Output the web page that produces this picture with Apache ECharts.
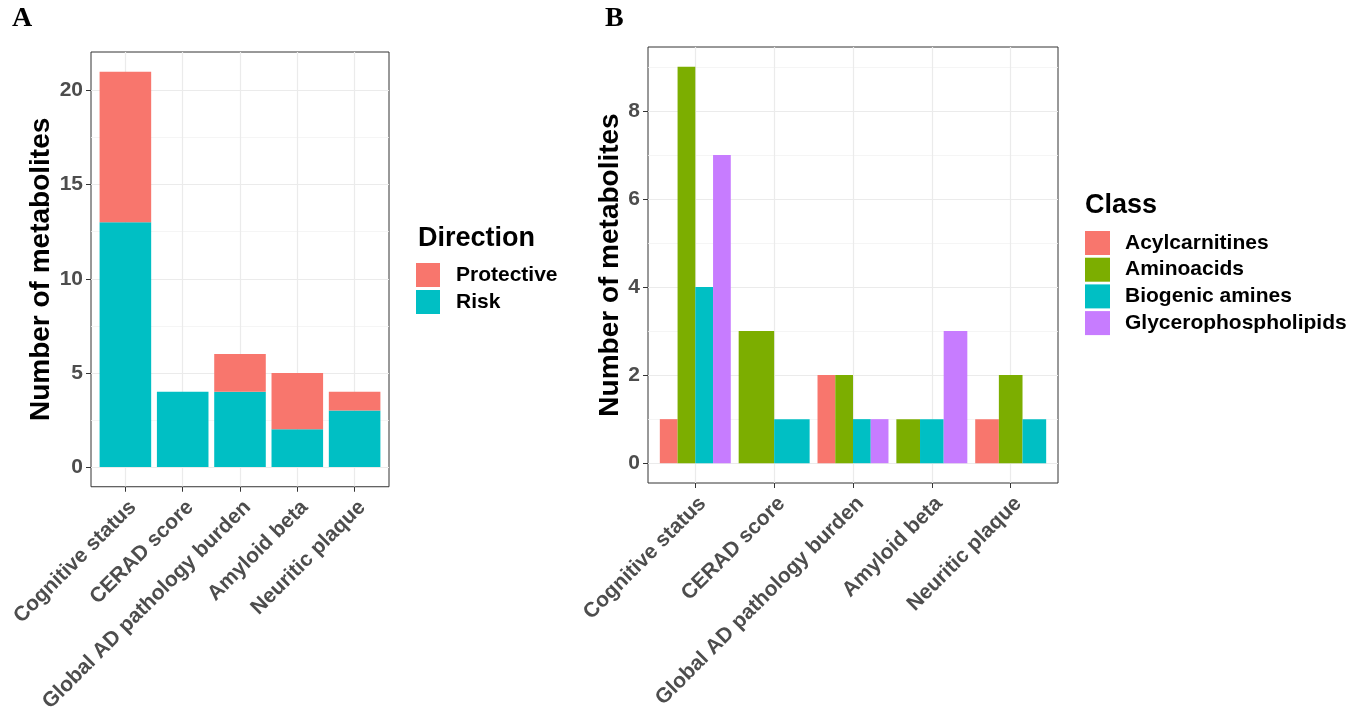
<!DOCTYPE html>
<html>
<head>
<meta charset="utf-8">
<script src="https://cdn.jsdelivr.net/npm/echarts@6/dist/echarts.min.js"></script>
<style>
html,body{margin:0;padding:0;background:#fff;}
#chart{width:1371px;height:715px;}
</style>
</head>
<body>
<div id="chart"></div>
<script>
// ---------- data ----------
const categories = ['Cognitive status', 'CERAD score', 'Global AD pathology burden', 'Amyloid beta', 'Neuritic plaque'];
// Panel A (stacked by direction)
const directionNames = ['Protective', 'Risk'];
const riskCounts = [13, 4, 4, 2, 3];
const protectiveCounts = [8, 0, 2, 3, 1];
// Panel B (dodged by class)
const classNames = ['Acylcarnitines', 'Aminoacids', 'Biogenic amines', 'Glycerophospholipids'];
const acylcarnitines = [1, 0, 2, 0, 1];
const aminoacids = [9, 3, 2, 1, 2];
const biogenicAmines = [4, 1, 1, 1, 1];
const glycerophospholipids = [7, 0, 1, 3, 0];
// tick labels
const yTicksA = [0, 5, 10, 15, 20];
const yMinorA = [2.5, 7.5, 12.5, 17.5];
const yTicksB = [0, 2, 4, 6, 8];
const yMinorB = [1, 3, 5, 7, 9];
const xTicks = [0, 1, 2, 3, 4];

// ---------- styling ----------
const FONT = '"Liberation Sans", Arial, Helvetica, sans-serif';
const SERIF = '"Liberation Serif", "Times New Roman", serif';
const dirColors = {Protective: '#F8766D', Risk: '#00BFC4'};
const classColors = ['#F8766D', '#7CAE00', '#00BFC4', '#C77CFF'];

// ---------- build series data ----------
const riskData = categories.map((c, i) => [i, 0, riskCounts[i]]).filter(d => d[2] > d[1]);
const protData = categories.map((c, i) => [i, riskCounts[i], riskCounts[i] + protectiveCounts[i]]).filter(d => d[2] > d[1]);

const classValues = [acylcarnitines, aminoacids, biogenicAmines, glycerophospholipids];
const classData = classValues.map(() => []);
categories.forEach((c, i) => {
  const present = [];
  classValues.forEach((vals, k) => { if (vals[i] > 0) present.push(k); });
  present.forEach((k, slot) => {
    classData[k].push([i, classValues[k][i], slot, present.length]);
  });
});

function stackItem(params, api) {
  const x = api.value(0), lo = api.value(1), hi = api.value(2);
  const unit = api.size([1, 0])[0];
  const w = 0.9 * unit;
  const a = api.coord([x, lo]), b = api.coord([x, hi]);
  return {type: 'rect', shape: {x: a[0] - w / 2, y: b[1], width: w, height: a[1] - b[1]}, style: api.style()};
}
function dodgeItem(params, api) {
  const x = api.value(0), v = api.value(1), slot = api.value(2), n = api.value(3);
  const unit = api.size([1, 0])[0];
  const total = 0.9 * unit, w = total / n;
  const a = api.coord([x, 0]), b = api.coord([x, v]);
  return {type: 'rect', shape: {x: a[0] - total / 2 + slot * w, y: b[1], width: w, height: a[1] - b[1]}, style: api.style()};
}

function xAxisFor(gridIndex) {
  return {
    type: 'value', gridIndex: gridIndex, min: -0.6, max: 4.6,
    axisLine: {show: false, onZero: false},
    axisTick: {show: true, customValues: xTicks, length: 5, lineStyle: {color: '#333', width: 1}},
    axisLabel: {show: true, customValues: xTicks, rotate: 45, margin: 10, verticalAlign: 'top', align: 'right',
      formatter: v => categories[Math.round(v)],
      color: '#4D4D4D', fontFamily: FONT, fontWeight: 'bold', fontSize: 21},
    splitLine: {show: true, lineStyle: {color: '#EBEBEB', width: 1.2}}
  };
}
function yMajor(gridIndex, min, max, ticks, nameGap) {
  return {
    type: 'value', gridIndex: gridIndex, min: min, max: max, position: 'left',
    name: 'Number of metabolites', nameLocation: 'middle', nameRotate: 90, nameGap: nameGap,
    nameTextStyle: {color: '#000', fontFamily: FONT, fontWeight: 'bold', fontSize: 28},
    axisLine: {show: false, onZero: false},
    axisTick: {show: true, customValues: ticks, length: 5, lineStyle: {color: '#333', width: 1}},
    axisLabel: {show: true, customValues: ticks, margin: 8, color: '#4D4D4D', fontFamily: FONT, fontWeight: 'bold', fontSize: 21},
    splitLine: {show: true, lineStyle: {color: '#EBEBEB', width: 1.2}}
  };
}
function yMinor(gridIndex, min, max, ticks) {
  return {
    type: 'value', gridIndex: gridIndex, min: min, max: max, position: 'right',
    axisLine: {show: false, onZero: false},
    axisTick: {show: false, customValues: ticks},
    axisLabel: {show: false, customValues: ticks},
    splitLine: {show: true, lineStyle: {color: '#F2F2F2', width: 0.8}}
  };
}
function legendText(pad) {
  return {
    formatter: name => '{t|' + name + '}',
    textStyle: {rich: {t: {padding: [0, 0, 0, pad], fontSize: 21, fontWeight: 'bold', fontFamily: FONT, color: '#000'}}}
  };
}

const chart = echarts.init(document.getElementById('chart'), null, {renderer: 'canvas'});
chart.setOption({
  animation: false,
  backgroundColor: '#fff',
  title: [
    {text: 'A', left: 12, top: 5, padding: 0, textStyle: {fontFamily: SERIF, fontWeight: 'bold', fontSize: 28, color: '#000'}},
    {text: 'B', left: 605, top: 5, padding: 0, textStyle: {fontFamily: SERIF, fontWeight: 'bold', fontSize: 28, color: '#000'}},
    {text: 'Direction', left: 418, top: 225, padding: 0, textStyle: {fontFamily: FONT, fontWeight: 'bold', fontSize: 27, color: '#000'}},
    {text: 'Class', left: 1085, top: 192, padding: 0, textStyle: {fontFamily: FONT, fontWeight: 'bold', fontSize: 27, color: '#000'}}
  ],
  legend: [
    Object.assign({data: directionNames, orient: 'vertical', left: 416, top: 263, padding: 0,
      itemWidth: 24, itemHeight: 24, itemGap: 3, icon: 'rect', selectedMode: false}, legendText(11)),
    Object.assign({data: classNames, orient: 'vertical', left: 1085, top: 231, padding: 0,
      itemWidth: 25, itemHeight: 24, itemGap: 2.7, icon: 'rect', selectedMode: false}, legendText(10))
  ],
  grid: [
    {left: 91, top: 52, width: 298, height: 436, show: true, borderColor: '#333', borderWidth: 1, backgroundColor: 'transparent'},
    {left: 648, top: 47, width: 410, height: 436, show: true, borderColor: '#333', borderWidth: 1, backgroundColor: 'transparent'}
  ],
  xAxis: [xAxisFor(0), xAxisFor(1)],
  yAxis: [
    yMajor(0, -1.05, 22.05, yTicksA, 32),
    yMinor(0, -1.05, 22.05, yMinorA),
    yMajor(1, -0.45, 9.45, yTicksB, 20),
    yMinor(1, -0.45, 9.45, yMinorB)
  ],
  series: [
    {name: 'Risk', type: 'custom', xAxisIndex: 0, yAxisIndex: 0, renderItem: stackItem,
      encode: {x: 0, y: [1, 2]}, itemStyle: {color: dirColors.Risk}, data: riskData, z: 3},
    {name: 'Protective', type: 'custom', xAxisIndex: 0, yAxisIndex: 0, renderItem: stackItem,
      encode: {x: 0, y: [1, 2]}, itemStyle: {color: dirColors.Protective}, data: protData, z: 3}
  ].concat(classNames.map((nm, k) => ({
    name: nm, type: 'custom', xAxisIndex: 1, yAxisIndex: 2, renderItem: dodgeItem,
    encode: {x: 0, y: 1}, itemStyle: {color: classColors[k]}, data: classData[k], z: 3
  })))
});
</script>
</body>
</html>
